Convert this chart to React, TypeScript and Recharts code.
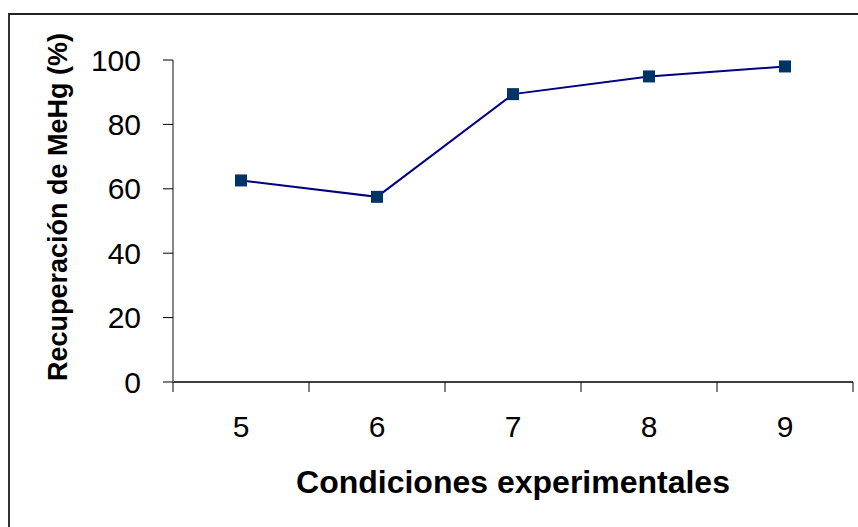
import React from 'react';
import { LineChart, Line, XAxis, YAxis } from 'recharts';

// experimental conditions and MeHg recovery (%)
const conditions = [5, 6, 7, 8, 9];
const recovery = [62.6, 57.5, 89.4, 94.9, 98.0];
const yTicks = [0, 20, 40, 60, 80, 100];
// category edges, where the x axis draws its tick marks
const xEdges = [4.5, 5.5, 6.5, 7.5, 8.5, 9.5];

const data = conditions.map((c, i) => ({ cond: c, rec: recovery[i] }));

const FONT = '"Liberation Sans", Arial, sans-serif';

function SquareDot(props: any) {
  const { cx, cy, index } = props;
  if (cx == null || cy == null) return <g key={`d${index}`} />;
  return <rect key={`d${index}`} x={cx - 6} y={cy - 6} width={12} height={12} fill="#003366" />;
}

export default function App() {
  return (
    <div style={{ position: 'absolute', left: 0, top: 0, width: 858, height: 527, background: '#fff', overflow: 'hidden' }}>
      <div
        style={{
          position: 'absolute',
          left: 8,
          top: 13,
          right: 0,
          bottom: 0,
          borderLeft: '2px solid #333',
          borderTop: '2px solid #222',
        }}
      />
      <LineChart
        width={858}
        height={527}
        data={data}
        margin={{ top: 60, right: 5, bottom: 0, left: 0 }}
        style={{ position: 'absolute', left: 0, top: 0, fontFamily: FONT }}
      >
        {/* labels under each category */}
        <XAxis
          xAxisId="b"
          type="number"
          dataKey="cond"
          domain={[4.5, 9.5]}
          ticks={conditions}
          height={144}
          axisLine={false}
          tickLine={false}
          tickSize={6}
          tickMargin={27}
          tick={{ fill: '#000', fontSize: 30, fontFamily: FONT }}
          label={() => (
            <text x={513} y={493} textAnchor="middle" fontSize={32} fontWeight="bold" fontFamily={FONT} fill="#000">
              Condiciones experimentales
            </text>
          )}
        />
        {/* axis line with tick marks between categories */}
        <XAxis
          xAxisId="a"
          type="number"
          dataKey="cond"
          domain={[4.5, 9.5]}
          ticks={xEdges}
          height={1}
          tickSize={10}
          tick={() => <g />}
          axisLine={{ stroke: '#000', strokeWidth: 1.5 }}
          tickLine={{ stroke: '#000' }}
        />
        <YAxis
          type="number"
          domain={[0, 100]}
          ticks={yTicks}
          width={173}
          tickSize={10}
          tickMargin={22}
          axisLine={{ stroke: '#868686', strokeWidth: 2 }}
          tickLine={{ stroke: '#000' }}
          tick={{ fill: '#000', fontSize: 30, fontFamily: FONT }}
          label={() => (
            <text
              x={67}
              y={207}
              transform="rotate(-90, 67, 207)"
              textAnchor="middle"
              fontSize={27}
              fontWeight="bold"
              fontFamily={FONT}
              fill="#000"
            >
              Recuperación de MeHg (%)
            </text>
          )}
        />
        <Line
          xAxisId="b"
          type="linear"
          dataKey="rec"
          stroke="#000080"
          strokeWidth={2}
          dot={SquareDot}
          activeDot={false}
          isAnimationActive={false}
        />
      </LineChart>
    </div>
  );
}
